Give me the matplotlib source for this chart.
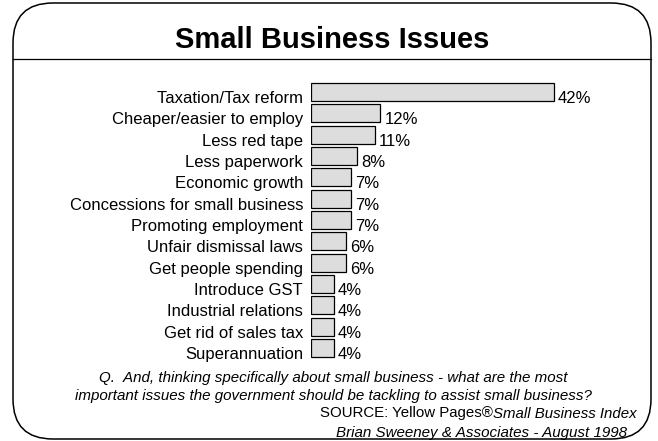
import matplotlib
matplotlib.use("Agg")
import matplotlib.pyplot as plt
from matplotlib.patches import FancyBboxPatch
from matplotlib.transforms import ScaledTranslation

plt.rcParams['font.family'] = ['Liberation Sans', 'DejaVu Sans']

issues = [
    "Taxation/Tax reform",
    "Cheaper/easier to employ",
    "Less red tape",
    "Less paperwork",
    "Economic growth",
    "Concessions for small business",
    "Promoting employment",
    "Unfair dismissal laws",
    "Get people spending",
    "Introduce GST",
    "Industrial relations",
    "Get rid of sales tax",
    "Superannuation",
]
percent = [42, 12, 11, 8, 7, 7, 7, 6, 6, 4, 4, 4, 4]

title = "Small Business Issues"
question = [
    "Q.  And, thinking specifically about small business - what are the most",
    "important issues the government should be tackling to assist small business?",
]
source_plain = "SOURCE: Yellow Pages\u00ae"
source_italic = "Small Business Index"
credit = "Brian Sweeney & Associates - August 1998"

W, H = 658, 441
fig = plt.figure(figsize=(W / 100, H / 100), dpi=100)
fig.patch.set_facecolor("white")

# page layer in pixel units (y down)
page = fig.add_axes([0, 0, 1, 1])
page.set_xlim(0, W)
page.set_ylim(H, 0)
page.axis("off")

frame = FancyBboxPatch((13, 3), 638, 436, boxstyle="round,pad=0,rounding_size=40",
                       fc="white", ec="black", lw=1.1)
page.add_patch(frame)
page.plot([13, 651], [59, 59], color="black", lw=0.9)

page.text(332, 48, title, ha="center", va="baseline", fontsize=21, fontweight="bold")

for line, yb in zip(question, [382, 400]):
    page.text(333, yb, line, ha="center", va="baseline", fontsize=10.9, style="italic")

src_it = page.text(637, 417.5, source_italic, ha="right", va="baseline", fontsize=10.8, style="italic")
fig.canvas.draw()
bb = src_it.get_window_extent()
x_split = page.transData.inverted().transform((bb.x0, bb.y0))[0]
page.text(x_split, 417.5, source_plain, ha="right", va="baseline", fontsize=10.8)

page.text(627, 437, credit, ha="right", va="baseline", fontsize=10.9, style="italic")

# bar chart
px_per_pct = 5.78
ax = fig.add_axes([311 / W, 1 - 358.7 / H, 300 / W, 277.3 / H])
rows = list(range(len(issues)))
ax.barh(rows, percent, height=0.84, color="#dddddd", edgecolor="black", lw=0.9)
ax.set_xlim(0, 300 / px_per_pct)
ax.set_ylim(len(issues) - 0.5, -0.5)
ax.axis("off")


def shift(dx, dy):
    return ScaledTranslation(dx / 100, -dy / 100, fig.dpi_scale_trans)


for i, (name, v) in enumerate(zip(issues, percent)):
    ax.text(0, i, name, transform=ax.transData + shift(-8, 11),
            ha="right", va="baseline", fontsize=12)
    ax.text(v, i, f"{v}%", transform=ax.transData + shift(4, 11),
            ha="left", va="baseline", fontsize=12)

fig.savefig("out.png", dpi=100)
